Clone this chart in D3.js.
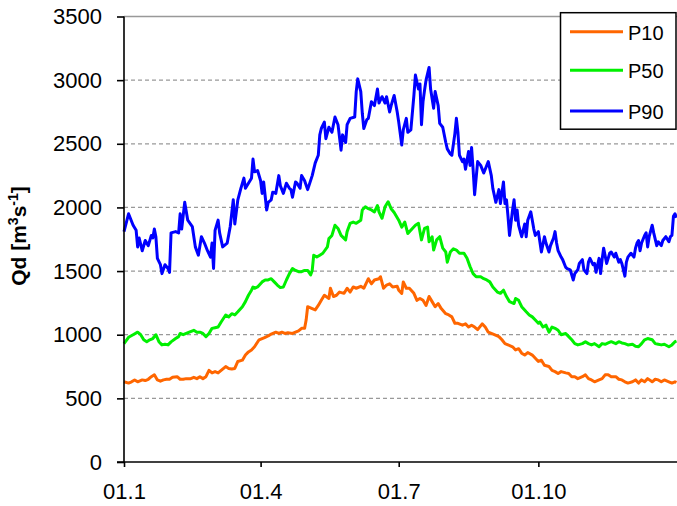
<!DOCTYPE html>
<html><head><meta charset="utf-8">
<script src="https://cdn.jsdelivr.net/npm/d3@7"></script>
<style>
html,body{margin:0;padding:0;background:#fff;}
svg{display:block;font-family:"Liberation Sans",Arial,sans-serif;}
</style></head>
<body>
<svg id="chart" width="677" height="506"></svg>
<script>
// ---- data (day of year, Qd) ----
const seriesNames = ["P10", "P50", "P90"];
const seriesColors = ["#ff6600", "#00f000", "#0000ff"];
const xTickDays = [0, 90, 181, 273];
const xTickLabels = ["01.1", "01.4", "01.7", "01.10"];
const yTicks = [0, 500, 1000, 1500, 2000, 2500, 3000, 3500];

const p10 = [[0,630],[3,620],[5,630],[7,645],[9,630],[12,645],[14,640],[16,650],[18,670],[20,685],[22,645],[24,635],[26,645],[28,650],[30,650],[32,665],[35,670],[37,650],[39,650],[41,655],[44,655],[46,665],[48,655],[50,670],[52,655],[54,670],[56,720],[58,700],[60,710],[62,700],[64,720],[67,750],[69,735],[71,730],[73,735],[75,790],[78,800],[80,840],[82,865],[84,880],[86,905],[89,960],[91,970],[93,980],[95,990],[97,1005],[100,1020],[102,1010],[104,1020],[106,1010],[108,1015],[111,1010],[113,1020],[115,1030],[117,1050],[119,1050],[120,1115],[121,1220],[124,1205],[126,1195],[128,1230],[130,1270],[132,1310],[135,1285],[136,1365],[138,1300],[140,1310],[142,1335],[145,1325],[147,1365],[149,1335],[151,1375],[153,1365],[156,1380],[158,1365],[160,1415],[161,1440],[163,1400],[165,1430],[168,1440],[169,1455],[171,1365],[173,1390],[175,1400],[177,1375],[180,1380],[181,1350],[183,1325],[184,1415],[186,1365],[188,1365],[191,1325],[193,1270],[195,1285],[197,1270],[199,1230],[201,1300],[203,1260],[205,1220],[207,1245],[209,1205],[212,1165],[214,1155],[216,1140],[218,1090],[220,1090],[223,1075],[225,1085],[227,1060],[229,1075],[231,1060],[233,1040],[236,1085],[238,1060],[240,1020],[242,1010],[244,1000],[247,985],[249,960],[251,930],[253,920],[256,905],[258,880],[260,890],[262,855],[264,840],[266,860],[269,840],[271,815],[273,790],[275,800],[277,760],[280,750],[282,720],[284,710],[286,695],[288,710],[291,700],[293,695],[295,670],[297,670],[299,655],[302,670],[304,685],[306,655],[308,645],[310,630],[313,645],[315,655],[317,685],[319,685],[321,670],[324,670],[326,650],[328,645],[330,630],[332,620],[335,630],[337,645],[339,620],[341,645],[343,630],[345,655],[348,630],[350,650],[352,645],[354,630],[356,645],[359,630],[361,620],[363,630],[364,625]];

const p50 = [[0,930],[3,980],[6,1000],[9,1020],[11,1000],[13,960],[15,945],[17,960],[19,970],[21,1000],[23,945],[25,920],[27,925],[29,920],[31,944],[34,970],[36,985],[37,1010],[39,1000],[41,1010],[43,1020],[46,1035],[48,1020],[50,1020],[52,1010],[54,985],[56,1010],[58,1050],[60,1055],[62,1060],[64,1100],[67,1155],[69,1140],[71,1165],[73,1155],[75,1180],[78,1220],[80,1260],[82,1310],[84,1350],[85,1375],[86,1365],[88,1375],[91,1415],[93,1430],[95,1430],[97,1440],[99,1415],[101,1390],[103,1370],[105,1375],[107,1430],[109,1480],[111,1520],[113,1505],[115,1495],[117,1495],[119,1505],[121,1505],[123,1470],[124,1505],[125,1625],[127,1610],[129,1625],[131,1640],[134,1690],[135,1755],[137,1780],[139,1860],[141,1835],[143,1780],[146,1745],[147,1810],[149,1875],[151,1885],[153,1875],[156,1900],[157,1980],[159,2005],[161,1990],[163,1980],[165,1965],[167,2015],[168,1965],[170,1915],[172,2005],[174,2045],[176,1990],[178,1960],[181,1900],[183,1845],[185,1885],[187,1795],[190,1835],[192,1860],[194,1875],[196,1745],[198,1835],[200,1845],[201,1730],[203,1770],[204,1665],[206,1745],[208,1770],[210,1680],[212,1650],[213,1570],[215,1650],[217,1675],[219,1665],[221,1640],[224,1640],[226,1600],[228,1535],[230,1480],[232,1455],[235,1455],[237,1440],[239,1430],[241,1415],[243,1375],[246,1335],[248,1325],[250,1350],[252,1300],[254,1260],[257,1245],[258,1285],[260,1270],[262,1220],[265,1180],[267,1155],[269,1140],[271,1115],[273,1090],[274,1100],[276,1060],[278,1075],[280,1020],[282,1060],[284,1050],[286,1035],[288,1000],[291,1010],[293,985],[295,960],[297,930],[299,920],[302,930],[304,945],[306,930],[308,920],[310,930],[313,905],[315,930],[317,925],[319,935],[321,945],[324,930],[326,945],[328,935],[330,930],[332,920],[335,925],[337,910],[339,905],[341,930],[343,960],[345,970],[348,960],[350,930],[352,925],[354,920],[356,925],[359,905],[361,920],[363,945],[364,950]];

const p90 = [[0,1810],[3,1950],[6,1860],[8,1820],[9,1690],[10,1760],[12,1660],[14,1740],[16,1700],[18,1780],[19,1760],[20,1830],[21,1770],[22,1600],[24,1550],[25,1480],[27,1550],[29,1520],[30,1490],[31,1800],[34,1810],[36,1800],[37,1950],[38,1830],[40,2040],[42,1900],[45,1850],[47,1690],[49,1625],[51,1770],[53,1720],[55,1660],[57,1610],[58,1720],[59,1520],[60,1820],[62,1900],[63,1800],[65,1690],[68,1720],[70,1850],[72,2060],[73,1870],[75,2060],[77,2150],[79,2230],[80,2150],[82,2190],[84,2230],[85,2380],[86,2280],[88,2290],[90,2210],[91,2110],[92,2200],[94,1980],[95,2040],[97,2060],[98,2120],[100,2110],[102,2250],[103,2170],[105,2110],[107,2190],[109,2150],[110,2140],[111,2080],[113,2200],[114,2190],[116,2150],[117,2250],[119,2210],[121,2140],[124,2250],[126,2350],[128,2410],[129,2570],[130,2620],[132,2670],[133,2540],[135,2630],[137,2590],[139,2710],[141,2650],[143,2450],[144,2570],[146,2510],[147,2650],[149,2700],[152,2710],[153,2910],[154,3010],[156,2910],[157,2740],[158,2620],[160,2690],[161,2700],[163,2830],[165,2800],[167,2930],[168,2820],[170,2870],[172,2820],[173,2870],[175,2750],[176,2800],[178,2880],[180,2750],[181,2670],[183,2490],[184,2610],[186,2700],[187,2590],[189,2610],[191,2880],[192,3040],[194,2930],[195,2970],[196,2650],[197,2830],[198,2920],[199,3000],[201,3100],[202,2930],[204,2780],[205,2910],[207,2800],[208,2660],[210,2630],[212,2510],[213,2460],[215,2420],[216,2410],[218,2580],[219,2700],[220,2590],[221,2410],[223,2360],[224,2380],[225,2300],[227,2440],[228,2330],[229,2470],[230,2300],[231,2100],[232,2230],[233,2360],[235,2330],[237,2270],[238,2300],[240,2360],[242,2250],[243,2150],[245,2040],[247,2140],[248,2030],[250,2200],[251,2030],[252,2060],[253,1930],[254,1780],[256,1980],[257,2060],[258,1900],[259,1980],[260,1860],[262,1770],[264,1870],[265,1770],[266,1900],[268,1965],[269,1900],[270,1830],[271,1780],[273,1810],[274,1730],[275,1650],[277,1770],[278,1720],[280,1650],[281,1700],[283,1760],[284,1810],[285,1720],[286,1660],[288,1610],[289,1590],[291,1530],[292,1520],[294,1510],[296,1430],[297,1480],[299,1510],[300,1560],[302,1590],[303,1510],[305,1480],[306,1570],[307,1600],[309,1550],[310,1560],[311,1490],[313,1600],[314,1480],[315,1590],[316,1680],[318,1560],[320,1640],[321,1650],[323,1610],[324,1640],[326,1570],[327,1590],[328,1560],[330,1460],[331,1570],[332,1610],[334,1640],[336,1610],[337,1680],[338,1720],[339,1740],[340,1660],[341,1720],[343,1780],[344,1800],[345,1690],[346,1770],[348,1860],[349,1800],[351,1700],[352,1730],[354,1700],[355,1740],[357,1770],[359,1730],[360,1770],[361,1780],[362,1930],[363,1950],[364,1920]];

const allSeries = [p10, p50, p90];

// ---- layout ----
const svg = d3.select("#chart");
const plotLeft = 124, plotRight = 678, plotTop = 16.5, plotBottom = 462;
const x = d3.scaleLinear().domain([0, 365]).range([plotLeft, plotRight]);
const y = d3.scaleLinear().domain([0, 3500]).range([plotBottom, plotTop]);

// gridlines
svg.append("g").selectAll("line")
  .data(yTicks.filter(v => v > 0))
  .join("line")
  .attr("x1", plotLeft).attr("x2", 677)
  .attr("y1", d => y(d)).attr("y2", d => y(d))
  .attr("stroke", "#999")
  .attr("stroke-width", 1.3)
  .attr("stroke-dasharray", d => d === 3500 ? null : "4,3");

// lines
const line = d3.line().x(d => x(d[0])).y(d => y(d[1]));
svg.append("g").selectAll("path")
  .data(allSeries)
  .join("path")
  .attr("d", line)
  .attr("fill", "none")
  .attr("stroke", (d, i) => seriesColors[i])
  .attr("stroke-width", 3)
  .attr("stroke-linejoin", "round");

// axes
const yAxis = d3.axisLeft(y).tickValues(yTicks).tickSize(7).tickPadding(15).tickFormat(d3.format("d"));
const gy = svg.append("g").attr("transform", `translate(${plotLeft},0)`).call(yAxis);
const xAxis = d3.axisBottom(x).tickValues(xTickDays).tickSize(5).tickPadding(16)
  .tickFormat((d, i) => xTickLabels[i]);
const gx = svg.append("g").attr("transform", `translate(0,${plotBottom})`).call(xAxis);
[gx, gy].forEach(g => {
  g.select(".domain").attr("stroke", "#000").attr("stroke-width", 1.6);
  g.selectAll(".tick line").attr("stroke", "#000").attr("stroke-width", 1.6);
  g.selectAll(".tick text").attr("fill", "#000").style("font-size", "22px")
    .style("font-family", "'Liberation Sans', Arial, sans-serif");
});
gy.select(".domain").attr("d", `M-7,${plotBottom}H0V${plotTop}`);
gx.select(".domain").attr("d", `M${plotLeft},0H677`);

// y title
const title = svg.append("text")
  .attr("transform", "translate(26,236) rotate(-90)")
  .attr("text-anchor", "middle")
  .style("font-size", "21px").style("font-weight", "bold").attr("fill", "#000");
title.append("tspan").text("Qd [m");
title.append("tspan").attr("dy", -8).style("font-size", "14px").text("3");
title.append("tspan").attr("dy", 8).text("s");
title.append("tspan").attr("dy", -8).style("font-size", "14px").text("-1");
title.append("tspan").attr("dy", 8).text("]");

// legend
const lg = svg.append("g");
lg.append("rect").attr("x", 560.5).attr("y", 12.7).attr("width", 115.5).attr("height", 116.5)
  .attr("fill", "#fff").attr("stroke", "#000").attr("stroke-width", 1.5);
const legendY = [31.7, 70.3, 111];
const items = lg.selectAll("g.item").data(seriesNames).join("g").attr("class", "item");
items.append("line").attr("x1", 570).attr("x2", 623)
  .attr("y1", (d, i) => legendY[i]).attr("y2", (d, i) => legendY[i])
  .attr("stroke", (d, i) => seriesColors[i]).attr("stroke-width", 3);
items.append("text").attr("x", 628).attr("y", (d, i) => legendY[i] + 8)
  .style("font-size", "20px").attr("fill", "#000").text(d => d);
</script>
</body></html>
